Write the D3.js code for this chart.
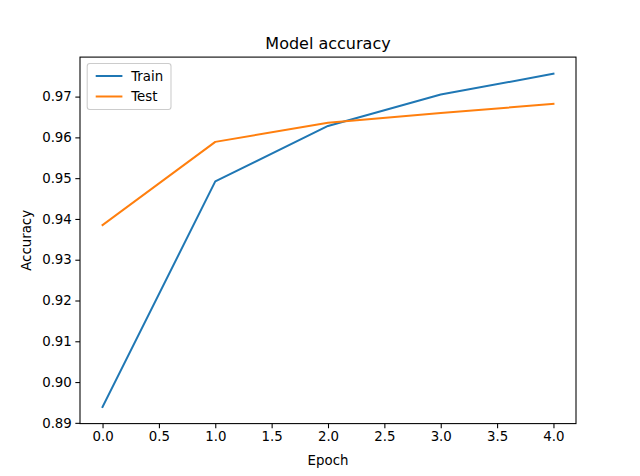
<!DOCTYPE html>
<html><head><meta charset="utf-8">
<script src="https://cdn.jsdelivr.net/npm/d3@7"></script>
<style>html,body{margin:0;padding:0;background:#fff;} svg{display:block;font-family:"DejaVu Sans",sans-serif;}</style>
</head><body><svg id="c" width="640" height="476"></svg>
<script>
const epochs = [0, 1, 2, 3, 4];
const trainAcc = [0.8939, 0.9492, 0.9628, 0.9705, 0.9756];
const testAcc = [0.9385, 0.9589, 0.9636, 0.9660, 0.9682];
const xTicks = [0.0, 0.5, 1.0, 1.5, 2.0, 2.5, 3.0, 3.5, 4.0];
const yTicks = [0.89, 0.90, 0.91, 0.92, 0.93, 0.94, 0.95, 0.96, 0.97];
const seriesNames = ["Train", "Test"];
const colors = ["#1f77b4", "#ff7f0e"];

const W = 640, H = 476;
const L = 80, R = 576, T = 57.1, B = 423.6;
const svg = d3.select("#c");
svg.append("rect").attr("width", W).attr("height", H).attr("fill", "#fff");

const xmin = d3.min(epochs), xmax = d3.max(epochs), xm = (xmax - xmin) * 0.05;
const all = trainAcc.concat(testAcc);
const ymin = d3.min(all), ymax = d3.max(all), ym = (ymax - ymin) * 0.05;
const x = d3.scaleLinear().domain([xmin - xm, xmax + xm]).range([L, R]);
const y = d3.scaleLinear().domain([ymin - ym, ymax + ym]).range([B, T]);

const line = d3.line().x((d, i) => x(epochs[i])).y(d => y(d));
[trainAcc, testAcc].forEach((s, k) => {
  svg.append("path").datum(s).attr("d", line).attr("fill", "none")
    .attr("stroke", colors[k]).attr("stroke-width", 2).attr("stroke-linecap", "square").attr("stroke-linejoin", "round");
});

const xAxis = d3.axisBottom(x).tickValues(xTicks).tickFormat(d3.format(".1f")).tickSizeInner(4.67).tickSizeOuter(0).tickPadding(3.5);
const yAxis = d3.axisLeft(y).tickValues(yTicks).tickFormat(d3.format(".2f")).tickSizeInner(4.67).tickSizeOuter(0).tickPadding(3.5);
const gx = svg.append("g").attr("transform", `translate(0,${B})`).call(xAxis);
const gy = svg.append("g").attr("transform", `translate(${L},0)`).call(yAxis);
[gx, gy].forEach(g => {
  g.select(".domain").remove();
  g.selectAll("line").attr("stroke", "#000").attr("stroke-width", 1.07);
  g.selectAll("text").attr("font-size", "13.33px").attr("fill", "#000").attr("font-family", "DejaVu Sans");
});

svg.append("rect").attr("x", L).attr("y", T).attr("width", R - L).attr("height", B - T)
  .attr("fill", "none").attr("stroke", "#000").attr("stroke-width", 1.07);

svg.append("text").attr("x", (L + R) / 2).attr("y", 49).attr("text-anchor", "middle")
  .attr("font-size", "16px").text("Model accuracy");
svg.append("text").attr("x", (L + R) / 2).attr("y", 465).attr("text-anchor", "middle")
  .attr("font-size", "13.33px").text("Epoch");
svg.append("text").attr("transform", `translate(31,${(T + B) / 2}) rotate(-90)`).attr("text-anchor", "middle")
  .attr("font-size", "13.33px").text("Accuracy");

// legend
const lg = svg.append("g");
lg.append("rect").attr("x", 87.2).attr("y", 63.5).attr("width", 83.8).attr("height", 46).attr("rx", 2.7)
  .attr("fill", "rgba(255,255,255,0.8)").attr("stroke", "#cccccc").attr("stroke-width", 1.07);
seriesNames.forEach((n, k) => {
  const cy = 76 + k * 20.5;
  lg.append("line").attr("x1", 95.7).attr("x2", 122.4).attr("y1", cy).attr("y2", cy)
    .attr("stroke", colors[k]).attr("stroke-width", 2);
  lg.append("text").attr("x", 131.2).attr("y", cy + 4.8).attr("font-size", "13.33px").text(n);
});
</script></body></html>
